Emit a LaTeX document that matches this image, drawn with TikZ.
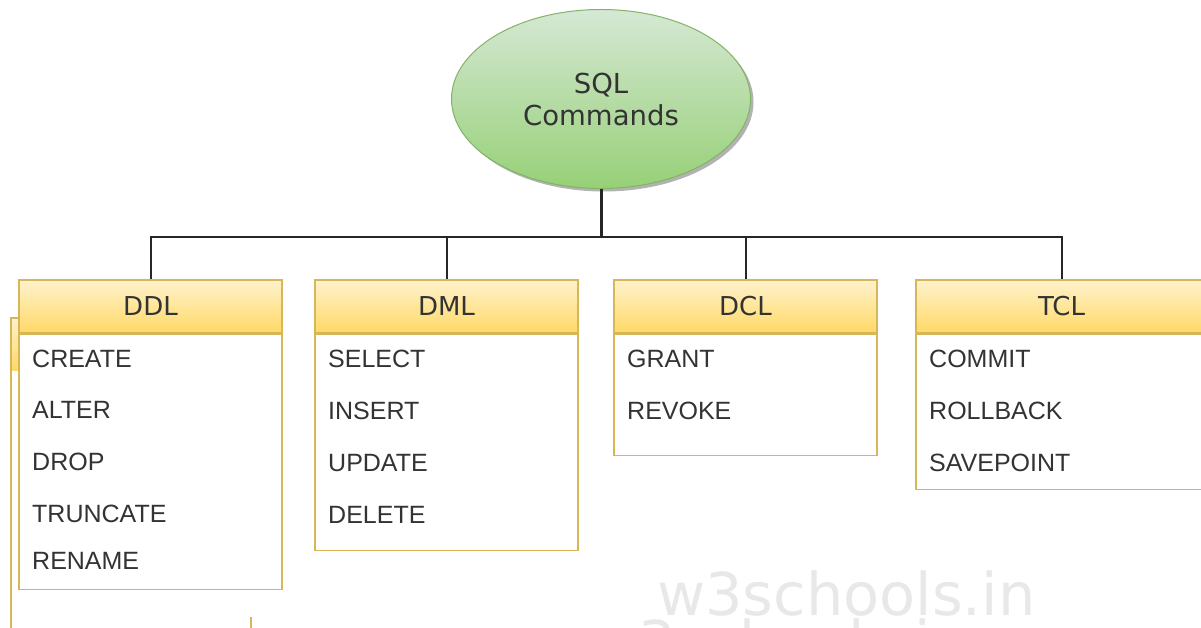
\documentclass[tikz,border=0pt]{standalone}
\usepackage{fontspec}
\setmainfont{Liberation Sans}
\newfontfamily\headfont{DejaVu Sans}
\usetikzlibrary{shapes.geometric,shadows}
\definecolor{ink}{HTML}{333333}
\definecolor{boxline}{HTML}{D6B656}
\definecolor{headtop}{HTML}{FFF2CC}
\definecolor{headbot}{HTML}{FFD966}
\definecolor{rootline}{HTML}{82B366}
\definecolor{roottop}{HTML}{D5E8D4}
\definecolor{rootbot}{HTML}{97D077}
\definecolor{wmgray}{HTML}{E8E8E8}
\tikzstyle{root}=[
	ellipse,
	minimum width=299pt,
	minimum height=179pt,
	inner sep=0pt,
	draw=rootline,
	line width=1pt,
	top color=roottop,
	bottom color=rootbot,
	align=center,
	text=ink,
	font=\headfont\fontsize{27.5}{32}\selectfont,
	drop shadow={shadow xshift=3pt,shadow yshift=-3pt,fill=black,opacity=0.3}
]
\tikzstyle{head}=[
	rectangle,
	minimum width=263pt,
	minimum height=53pt,
	inner sep=0pt,
	draw=boxline,
	line width=1.5pt,
	top color=headtop,
	bottom color=headbot,
	text=ink,
	font=\headfont\fontsize{26}{30}\selectfont
]
\tikzstyle{body}=[
	rectangle,
	anchor=north,
	minimum width=263pt,
	inner sep=0pt,
	draw=boxline,
	line width=1.5pt,
	fill=white
]
\tikzstyle{item}=[anchor=base west,inner sep=0pt,text=ink,font=\fontsize{25}{30}\selectfont]
\tikzstyle{wire}=[line width=2pt,draw=black!85]
\tikzstyle{wmark}=[anchor=base west,inner sep=0pt,text=wmgray,font=\headfont\fontsize{59}{62}\selectfont]

\begin{document}
\begin{tikzpicture}[x=1pt,y=-1pt]

\clip (0,0) rectangle (1201,628);

% Box behind DDL (cut off)
\shade[top color=headtop,bottom color=headbot] (11,318) rectangle (19,370);
\draw[boxline,line width=1.5pt] (19,318) -- (11,318) -- (11,628);
\draw[boxline,line width=1.5pt] (251,617) -- (251,628);

% Watermark
\node[wmark] (wm) at (657,615){w3schools.in};
\begin{scope}
\clip (0,617) rectangle (1201,628);
\node[wmark] (wmlow) at (590,663){w3schools.in};
\end{scope}

% Root
\node[root] (SQL) at (601,99){SQL\\Commands};

% DDL
\node[head] (DDL) at (150.5,306.5){DDL};
\node[body,minimum height=255pt] (DDLbody) at (DDL.south){};
\node[item] (create) at (32,367){CREATE};
\node[item] (alter) at (32,418){ALTER};
\node[item] (drop) at (32,470){DROP};
\node[item] (truncate) at (32,522){TRUNCATE};
\node[item] (rename) at (32,569){RENAME};

% DML
\node[head] (DML) at (446.5,306.5){DML};
\node[body,minimum height=216pt] (DMLbody) at (DML.south){};
\node[item] (select) at (328,367){SELECT};
\node[item] (insert) at (328,419){INSERT};
\node[item] (update) at (328,471){UPDATE};
\node[item] (delete) at (328,523){DELETE};

% DCL
\node[head] (DCL) at (745.5,306.5){DCL};
\node[body,minimum height=121pt] (DCLbody) at (DCL.south){};
\node[item] (grant) at (627,367){GRANT};
\node[item] (revoke) at (627,419){REVOKE};

% TCL
\node[head,minimum width=291pt] (TCL) at (1061.5,306.5){TCL};
\node[body,minimum width=291pt,minimum height=155pt] (TCLbody) at (TCL.south){};
\node[item] (commit) at (929,367){COMMIT};
\node[item] (rollback) at (929,419){ROLLBACK};
\node[item] (savepoint) at (929,471){SAVEPOINT};

% Tree lines
\coordinate (bus) at (601,237);
\draw[wire,line width=3pt] (SQL.south) -- (bus);
\draw[wire] (bus) -| (DDL.north);
\draw[wire] (bus) -| (DML.north);
\draw[wire] (bus) -| (DCL.north);
\draw[wire] (bus) -| (TCL.north);

\end{tikzpicture}
\end{document}
